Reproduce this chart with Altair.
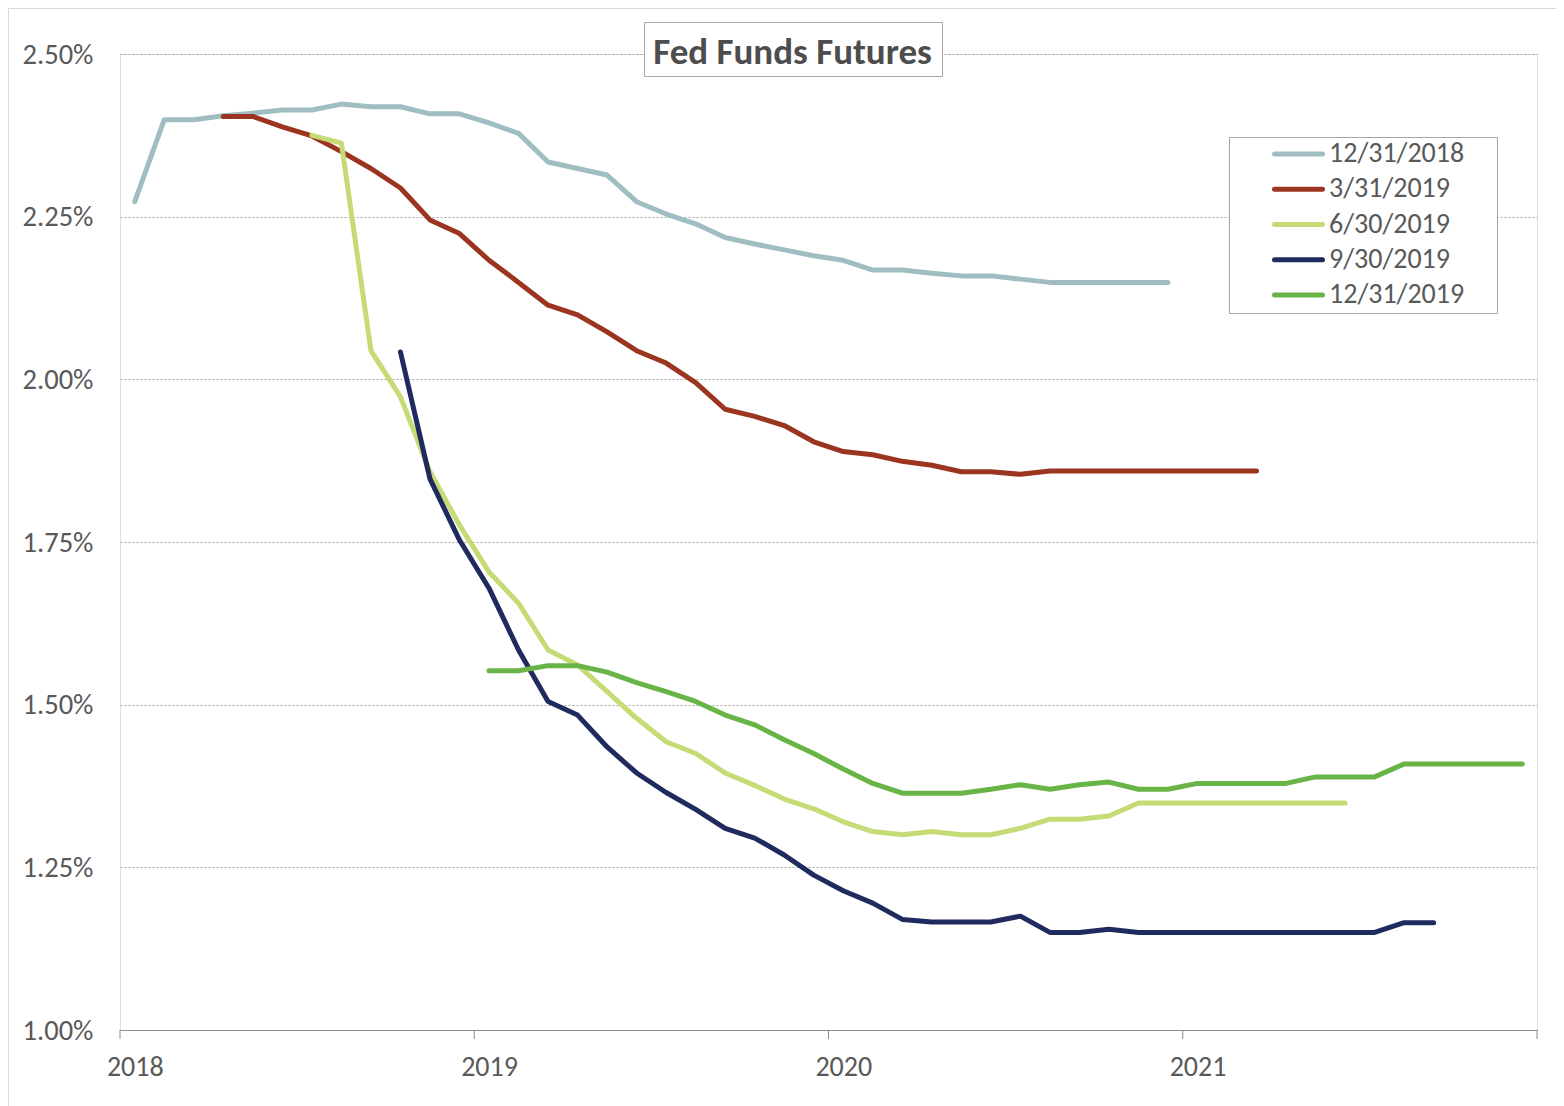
import altair as alt
import pandas as pd

FONT = "Carlito, Calibri, 'Liberation Sans Narrow', Lato, sans-serif"

months = [f"{y}-{m:02d}" for y in range(2018, 2022) for m in range(1, 13)]
series_names = ["12/31/2018", "3/31/2019", "6/30/2019", "9/30/2019", "12/31/2019"]
colors = ["#A0BEC1", "#9B3520", "#C5DC76", "#1F2A5E", "#69B446"]

N = None
s_2018_12 = [2.273, 2.399, 2.399, 2.405, 2.409, 2.414, 2.414, 2.423, 2.419, 2.419, 2.408, 2.408,
             2.394, 2.378, 2.334, 2.324, 2.314, 2.273, 2.254, 2.239, 2.218, 2.208, 2.199, 2.190,
             2.183, 2.168, 2.168, 2.163, 2.159, 2.159, 2.154, 2.149, 2.149, 2.149, 2.149, 2.149,
             N, N, N, N, N, N, N, N, N, N, N, N]
s_2019_03 = [N, N, N, 2.404, 2.404, 2.388, 2.374, 2.350, 2.324, 2.294, 2.245, 2.224,
             2.183, 2.149, 2.114, 2.099, 2.073, 2.044, 2.025, 1.995, 1.954, 1.943, 1.929, 1.904,
             1.889, 1.884, 1.874, 1.868, 1.858, 1.858, 1.854, 1.859, 1.859, 1.859, 1.859, 1.859,
             1.859, 1.859, 1.859, N, N, N, N, N, N, N, N, N]
s_2019_06 = [N, N, N, N, N, N, 2.375, 2.363, 2.044, 1.973, 1.858, 1.776,
             1.704, 1.656, 1.584, 1.561, 1.520, 1.479, 1.443, 1.425, 1.395, 1.376, 1.355, 1.340,
             1.320, 1.305, 1.300, 1.305, 1.300, 1.300, 1.310, 1.324, 1.324, 1.329, 1.349, 1.349,
             1.349, 1.349, 1.349, 1.349, 1.349, 1.349, N, N, N, N, N, N]
s_2019_09 = [N, N, N, N, N, N, N, N, N, 2.042, 1.847, 1.753,
             1.679, 1.584, 1.505, 1.484, 1.435, 1.395, 1.365, 1.339, 1.310, 1.295, 1.269, 1.238,
             1.214, 1.195, 1.170, 1.166, 1.166, 1.166, 1.175, 1.150, 1.150, 1.155, 1.150, 1.150,
             1.150, 1.150, 1.150, 1.150, 1.150, 1.150, 1.150, 1.165, 1.165, N, N, N]
s_2019_12 = [N, N, N, N, N, N, N, N, N, N, N, N,
             1.552, 1.552, 1.560, 1.560, 1.550, 1.534, 1.520, 1.505, 1.484, 1.469, 1.446, 1.425,
             1.401, 1.379, 1.364, 1.364, 1.364, 1.370, 1.377, 1.370, 1.377, 1.381, 1.370, 1.370,
             1.379, 1.379, 1.379, 1.379, 1.389, 1.389, 1.389, 1.409, 1.409, 1.409, 1.409, 1.409]

all_series = [s_2018_12, s_2019_03, s_2019_06, s_2019_09, s_2019_12]

rows = []
for name, vals in zip(series_names, all_series):
    for i, (m, v) in enumerate(zip(months, vals)):
        if v is not None:
            rows.append({"series": name, "month": m, "pos": i + 0.5, "rate": v})
df = pd.DataFrame(rows)

# year boundaries (tick marks) from the month categories
tick_df = pd.DataFrame({"pos": [float(i) for i, m in enumerate(months) if m.endswith("-01")] + [float(len(months))]})
legend_df = pd.DataFrame({"series": series_names})

W, H = 1417, 976
label_pos = [i + 0.5 for i, m in enumerate(months) if m.endswith("-01")]

xscale = alt.Scale(domain=[0, len(months)], nice=False, zero=False)
cscale = alt.Scale(domain=series_names, range=colors)

lines = alt.Chart(df).mark_line(strokeWidth=5, strokeCap="round", strokeJoin="round").encode(
    x=alt.X("pos:Q", scale=xscale,
            axis=alt.Axis(values=label_pos, title=None, grid=False,
                          labelExpr="toString(2018 + floor(datum.value / 12))",
                          labelFontSize=28, labelFont=FONT, labelColor="#595959",
                          ticks=False, domainColor="#8C8C8C",
                          labelPadding=23, labelFlush=False, labelOverlap=False)),
    y=alt.Y("rate:Q",
            scale=alt.Scale(domain=[1.0, 2.5], nice=False, zero=False),
            axis=alt.Axis(values=[1.0, 1.25, 1.5, 1.75, 2.0, 2.25, 2.5], title=None,
                          labelExpr="format(datum.value, '.2f') + '%'",
                          labelFontSize=28.5, labelFont=FONT, labelColor="#595959",
                          ticks=False, domain=False, labelPadding=27,
                          grid=True, gridColor="#A6A6A6", gridDash=[2, 2], gridWidth=1)),
    color=alt.Color("series:N", scale=cscale, legend=None),
    order=alt.Order("pos:Q"),
)

ticks = alt.Chart(tick_df).mark_rule(color="#8C8C8C", strokeWidth=1).encode(
    x=alt.X("pos:Q", scale=xscale),
    y=alt.value(H), y2=alt.value(H + 9))

outer = alt.Chart(pd.DataFrame({"k": [0]})).mark_rect(fill=None, stroke="#D9D9D9", strokeWidth=1).encode(
    x=alt.value(-111.5), x2=alt.value(W + 60), y=alt.value(-45.5), y2=alt.value(H + 120))

legend_box = alt.Chart(pd.DataFrame({"k": [0]})).mark_rect(fill="white", stroke="#A6A6A6", strokeWidth=1).encode(
    x=alt.value(1109.5), x2=alt.value(1377.5), y=alt.value(83.5), y2=alt.value(259.5))

leg_y = alt.Y("series:N", sort=series_names, axis=None,
              scale=alt.Scale(type="point", domain=series_names, range=[100, 241], padding=0))

legend_lines = alt.Chart(legend_df).mark_rule(strokeWidth=5, strokeCap="round").encode(
    y=leg_y, x=alt.value(1154.5), x2=alt.value(1202.5),
    color=alt.Color("series:N", scale=cscale, legend=None))

legend_text = alt.Chart(legend_df).mark_text(
    font=FONT, fontSize=28, color="#595959", align="left", baseline="middle", dx=0
).encode(y=leg_y, x=alt.value(1209), text="series:N")

title_box = alt.Chart(pd.DataFrame({"k": [0]})).mark_rect(fill="white", stroke="#A6A6A6", strokeWidth=1).encode(
    x=alt.value(524.5), x2=alt.value(822.5), y=alt.value(-31.5), y2=alt.value(22.5))

title_text = alt.Chart(pd.DataFrame({"t": ["Fed Funds Futures"]})).mark_text(
    font=FONT, fontSize=37, fontWeight="bold", color="#4D4D4D", align="center", baseline="alphabetic"
).encode(text="t:N", x=alt.value(672.5), y=alt.value(9.5))

chart = alt.layer(outer, legend_box, lines, ticks, title_box, title_text,
                  legend_lines, legend_text).resolve_scale(y="independent").properties(
    width=W, height=H,
    padding={"left": 112, "top": 46, "right": 19, "bottom": 84},
    autosize=alt.AutoSizeParams(type="none"),
).configure_view(stroke="#BFBFBF", strokeWidth=1).configure(background="white")

chart.save("out.html", embed_options={"renderer": "svg", "actions": False})
